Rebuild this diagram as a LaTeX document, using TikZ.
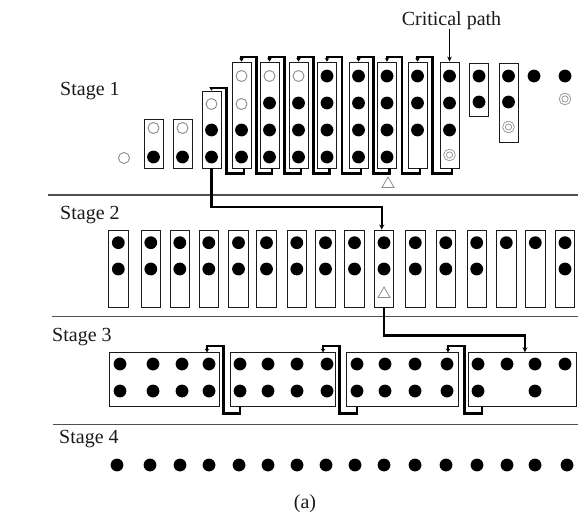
\documentclass[tikz,border=0pt]{standalone}
\usepackage{fontspec}
\setmainfont{Liberation Serif}
\usetikzlibrary{arrows.meta,calc,shapes.geometric}

\definecolor{ink}{HTML}{1A1A1A}
\definecolor{rulegray}{HTML}{505050}
\definecolor{opengray}{HTML}{8C8C8C}

\tikzset{
  lbl/.style={font=\fontsize{20}{24}\selectfont, text=ink, inner sep=0pt},
  slotbox/.style={draw=ink, line width=0.9pt, inner sep=0pt, minimum width=19pt},
  groupbox/.style={draw=ink, line width=0.9pt, inner sep=0pt, minimum height=54pt},
  fulldot/.style={circle, fill=black, inner sep=0pt, minimum size=12.8pt},
  opendot/.style={circle, draw=opengray, line width=0.9pt, inner sep=0pt, minimum size=11pt},
  ringdot/.style={circle, draw=opengray, line width=0.8pt, double=white, double distance=1.6pt, inner sep=0pt, minimum size=9pt},
  tridot/.style={regular polygon, regular polygon sides=3, draw=opengray, line width=0.8pt, inner sep=0pt, minimum size=14pt},
  fbpath/.style={draw=black, line width=2.1pt, -{Stealth[length=3.5pt,width=4.5pt]}},
  linkpath/.style={draw=black, line width=2.1pt, -{Stealth[length=5pt,width=5pt]}},
  cparrow/.style={draw=black, line width=1.2pt, -{Stealth[length=5pt,width=4.5pt]}},
  rulel/.style={draw=rulegray, line width=1.2pt},
}

\begin{document}
\begin{tikzpicture}[x=1pt,y=-1pt]
\useasboundingbox (0,0) rectangle (578,514);

% ---------- labels ----------
\node[lbl, anchor=base west] (st1) at (60,95) {Stage 1};
\node[lbl, anchor=base west] (st2) at (60,219) {Stage 2};
\node[lbl, anchor=base west] (st3) at (52,341) {Stage 3};
\node[lbl, anchor=base west] (st4) at (59,443) {Stage 4};
\node[lbl, anchor=base] (cp) at (451.5,25) {Critical path};
\node[lbl, anchor=base] (cap) at (305,508) {(a)};

% ---------- stage separators ----------
\draw[rulel] (48,195) -- (578,195);
\draw[rulel] (51.7,316.7) -- (578,316.7);
\draw[rulel] (53,424.5) -- (578,424.5);

% ---------- stage 1 ----------
\node[slotbox, minimum height=49pt]  (c1)  at (153.5,143.5) {};
\node[slotbox, minimum height=49pt]  (c2)  at (182.5,143.5) {};
\node[slotbox, minimum height=77pt]  (c3)  at (211.5,129.5) {};
\foreach \n/\x in {4/241.5,5/269.5,6/298.5,7/327,8/358.5,9/387,10/417.5,11/449.5}
  \node[slotbox, minimum height=106pt] (c\n) at (\x,115) {};
\node[slotbox, minimum height=53pt]  (c12) at (479,89.5) {};
\node[slotbox, minimum height=79pt]  (c13) at (508.5,102.5) {};

\node[opendot] (d0) at (124,158) {};
\foreach \n/\x/\spec in {
  1/153.5/{128/opendot,157/fulldot},
  2/182.5/{128/opendot,157/fulldot},
  3/211.5/{104/opendot,130/fulldot,157/fulldot},
  4/241.5/{76/opendot,104/opendot,130/fulldot,157/fulldot},
  5/269.5/{76/opendot,103/fulldot,130/fulldot,157/fulldot},
  6/298.5/{76/opendot,103/fulldot,130/fulldot,157/fulldot},
  7/327/{76/fulldot,103/fulldot,130/fulldot,157/fulldot},
  8/358.5/{76/fulldot,103/fulldot,130/fulldot,157/fulldot},
  9/387/{76/fulldot,103/fulldot,130/fulldot,157/fulldot},
  10/417.5/{76/fulldot,103/fulldot,130/fulldot},
  11/449.5/{76/fulldot,103/fulldot,130/fulldot,155/ringdot},
  12/479/{76/fulldot,102/fulldot},
  13/508.5/{76/fulldot,102/fulldot,127/ringdot},
  14/534/{76/fulldot},
  15/565/{76/fulldot,99/ringdot}}
{
  \foreach \y/\t [count=\r] in \spec { \node[\t] (d\n-\r) at (\x,\y) {}; }
}
\node[tridot] (tr1) at (388,184) {};

% feedback loops between neighbouring slots
\foreach \a/\b/\up in {3/4/3,4/5/5,5/6/5,6/7/5,7/8/5,8/9/5,9/10/5,10/11/5}
  \draw[fbpath] ($(c\b.south)+(2.5,0)$) -- ++(0,5) -| ($(c\a.north east)+(5,-\up)$) -| (c\a.north);

\draw[cparrow] (cp.south -| c11.north) -- (c11.north);

% ---------- stage 2 ----------
\foreach \x [count=\i] in {118.3,150.8,179.8,208.8,238.5,266.5,296.8,325.5,354.5,384,415.3,445.8,476.7,506.3,535.3,565} {
  \node[slotbox, minimum width=19.5pt, minimum height=77pt] (s2c\i) at (\x,268.5) {};
  \node[fulldot] (mt\i) at (\x,242.7) {};
  \ifnum\i=14 \else\ifnum\i=15 \else
    \node[fulldot] (mb\i) at (\x,269) {};
  \fi\fi
}
\node[tridot] (tr2) at (384,294) {};

\draw[linkpath] (c3.south) -- ++(0,38.7) -| ($(s2c10.north)+(-2.3,0)$);

% ---------- stage 3 ----------
\node[groupbox, minimum width=110pt]   (gA) at (164,379.7) {};
\node[groupbox, minimum width=105pt]   (gB) at (282.5,379.7) {};
\node[groupbox, minimum width=111.3pt] (gC) at (402.35,379.7) {};
\node[groupbox, minimum width=108.7pt] (gD) at (522.35,379.7) {};

\foreach \x [count=\i] in {120,153,182,209,240,268,297,327,357,385,415,447,478,507,535,565} {
  \node[fulldot] (t\i) at (\x,364) {};
  \ifnum\i=14 \else\ifnum\i=16 \else
    \node[fulldot] (b\i) at (\x,391) {};
  \fi\fi
}

\draw[fbpath] (gB.south -| t5)  -- ++(0,6.3) -| ($(gA.north east)+(4,-6.7)$) -| ($(gA.north -| t4)+(-2,0)$);
\draw[fbpath] (gC.south -| t9)  -- ++(0,6.3) -| ($(gB.north east)+(4,-6.7)$) -| ($(gB.north -| t8)+(-4,0)$);
\draw[fbpath] ($(gD.south -| t13)+(4,0)$) -- ++(0,6.3) -| ($(gC.north east)+(6,-6.7)$) -| ($(gC.north -| t12)+(1,0)$);

\draw[linkpath] (s2c10.south) -- ++(0,28) -| ($(gD.north)+(2.6,0)$);

% ---------- stage 4 ----------
\foreach \x [count=\i] in {117,150,180,209,239,268,297,326,355,384,415,446,477,507,535,567}
  \node[fulldot] (q\i) at (\x,465) {};

\end{tikzpicture}
\end{document}
